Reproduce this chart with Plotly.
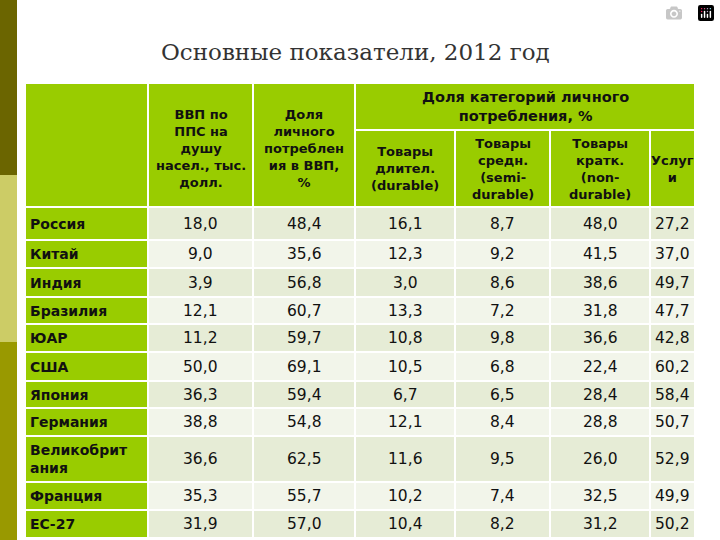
import plotly.graph_objects as go

# table data
countries = ["Россия", "Китай", "Индия", "Бразилия", "ЮАР", "США", "Япония",
             "Германия", "Великобрит<br>ания", "Франция", "ЕС-27"]
gdp_ppp = ["18,0", "9,0", "3,9", "12,1", "11,2", "50,0", "36,3", "38,8", "36,6", "35,3", "31,9"]
cons_share = ["48,4", "35,6", "56,8", "60,7", "59,7", "69,1", "59,4", "54,8", "62,5", "55,7", "57,0"]
durable = ["16,1", "12,3", "3,0", "13,3", "10,8", "10,5", "6,7", "12,1", "11,6", "10,2", "10,4"]
semi_durable = ["8,7", "9,2", "8,6", "7,2", "9,8", "6,8", "6,5", "8,4", "9,5", "7,4", "8,2"]
non_durable = ["48,0", "41,5", "38,6", "31,8", "36,6", "22,4", "28,4", "28,8", "26,0", "32,5", "31,2"]
services = ["27,2", "37,0", "49,7", "47,7", "42,8", "60,2", "58,4", "50,7", "52,9", "49,9", "50,2"]

col_headers = ["ВВП по<br>ППС на<br>душу<br>насел., тыс.<br>долл.",
               "Доля<br>личного<br>потреблен<br>ия в ВВП,<br>%",
               "Товары<br>длител.<br>(durable)",
               "Товары<br>средн.<br>(semi-<br>durable)",
               "Товары<br>кратк.<br>(non-<br>durable)",
               "Услуг<br>и"]
group_header = "Доля категорий личного<br>потребления, %"

# layout of the grid (pixels)
col_edges = [25, 148, 253, 355, 455, 550, 650, 695]
row_edges = [207, 240, 268, 297, 324, 352, 381, 408, 436, 482, 510, 538]
head_top, group_bottom = 83, 130

GREEN = "#99cc00"
fig = go.Figure()
shapes = []
ann = []

def rect(x0, x1, y0, y1, color):
    shapes.append(dict(type="rect", x0=x0, x1=x1, y0=y0, y1=y1, fillcolor=color,
                       line=dict(color="white", width=2), layer="below"))

def text(x, y, s, size=14, bold=False, anchor="center"):
    ann.append(dict(x=x, y=y, text=f"<b>{s}</b>" if bold else s, showarrow=False,
                    xanchor=anchor, yanchor="middle", align=anchor if anchor != "center" else "center",
                    font=dict(family="DejaVu Sans", size=size, color="#111")))

# left decoration strip
for y0, y1, c in [(0, 175, "#6b6500"), (175, 342, "#cccc66"), (342, 540, "#999900")]:
    shapes.append(dict(type="rect", x0=0, x1=17, y0=y0, y1=y1, fillcolor=c, line_width=0))

# header
rect(col_edges[0], col_edges[1], head_top, row_edges[0], GREEN)
rect(col_edges[1], col_edges[2], head_top, row_edges[0], GREEN)
rect(col_edges[2], col_edges[3], head_top, row_edges[0], GREEN)
rect(col_edges[3], col_edges[7], head_top, group_bottom, GREEN)
text((col_edges[3] + col_edges[7]) / 2, (head_top + group_bottom) / 2, group_header, 14.5, True)
for i, h in enumerate(col_headers):
    x0, x1 = col_edges[i + 1], col_edges[i + 2]
    if i >= 2:
        rect(x0, x1, group_bottom, row_edges[0], GREEN)
        yc = (group_bottom + row_edges[0]) / 2
    else:
        yc = (head_top + row_edges[0]) / 2 + 3
    text((x0 + x1) / 2, yc, h, 13, True)

# body
columns = [gdp_ppp, cons_share, durable, semi_durable, non_durable, services]
for r, name in enumerate(countries):
    y0, y1 = row_edges[r], row_edges[r + 1]
    yc = (y0 + y1) / 2
    rect(col_edges[0], col_edges[1], y0, y1, GREEN)
    text(col_edges[0] + 3, yc, name, 14, True, "left")
    fill = "#e6ecd6" if r % 2 == 0 else "#f2f5ea"
    for c, vals in enumerate(columns):
        rect(col_edges[c + 1], col_edges[c + 2], y0, y1, fill)
        text((col_edges[c + 1] + col_edges[c + 2]) / 2, yc, vals[r], 15.5)

ann.append(dict(x=355, y=52, text="Основные показатели, 2012 год", showarrow=False,
                font=dict(family="DejaVu Serif", size=23, color="#333")))

fig.update_layout(width=720, height=540, margin=dict(l=0, r=0, t=0, b=0),
                  plot_bgcolor="white", paper_bgcolor="white",
                  shapes=shapes, annotations=ann, showlegend=False,
                  xaxis=dict(range=[0, 720], visible=False, fixedrange=True),
                  yaxis=dict(range=[540, 0], visible=False, fixedrange=True))
fig.write_html("out.html", post_script="document.body.style.margin='0';")
